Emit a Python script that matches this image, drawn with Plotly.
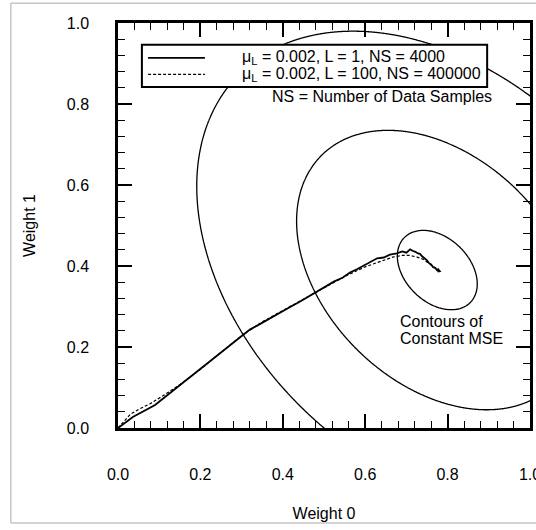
import numpy as np
import plotly.graph_objects as go

# ---------------- data ----------------
w0_solid = [0, .012, .024, .036, .05, .064, .078, .09, .105, .12, .135, .15, .165, .18, .195, .21,
            .225, .24, .255, .27, .285, .30, .32, .34, .36, .38, .40, .42, .44, .46, .485, .505,
            .525, .545, .563, .58, .595, .61, .629, .645, .66, .677, .69, .70, .709, .716, .722,
            .728, .733, .738, .742, .746, .750, .755, .760, .765, .770, .774, .777, .781, .776, .779]
w1_solid = [0, .010, .018, .027, .035, .042, .049, .057, .069, .081, .093, .106, .117, .130, .141,
            .154, .166, .178, .190, .203, .214, .227, .243, .254, .266, .277, .290, .300, .311,
            .323, .339, .349, .362, .371, .384, .392, .400, .408, .419, .421, .428, .431, .436,
            .433, .441, .437, .435, .431, .430, .424, .421, .416, .414, .407, .404, .397, .395,
            .390, .392, .387, .386, .389]

w0_dashed = [0, .015, .03, .05, .078, .11, .15, .20, .25, .30, .35, .40, .45, .50, .55, .60, .64,
             .667, .69, .709, .726, .740, .750, .760, .770, .777]
w1_dashed = [0, .018, .034, .046, .060, .080, .107, .145, .187, .228, .262, .290, .318, .346,
             .374, .398, .413, .422, .426, .426, .422, .417, .410, .402, .394, .390]

# quadratic MSE surface parameters (optimum weights, input correlation matrix, contour levels)
w_opt = [0.775, 0.39]
R = [[1.0, 0.347], [0.347, 0.98]]
mse_levels = [0.00825, 0.1023, 0.299]

tick_vals = [0.0, 0.2, 0.4, 0.6, 0.8, 1.0]
tick_text = ["0.0", "0.2", "0.4", "0.6", "0.8", "1.0"]

legend_labels = ["μ<sub>L</sub> = 0.002, L = 1, NS = 4000",
                 "μ<sub>L</sub> = 0.002, L = 100, NS = 400000"]

# ---------------- figure ----------------
FONT = "Liberation Sans, Arial, Helvetica, sans-serif"
fig = go.Figure()

g = np.linspace(-0.1, 1.1, 481)
G0, G1 = np.meshgrid(g, g)
D0, D1 = G0 - w_opt[0], G1 - w_opt[1]
Z = R[0][0] * D0 ** 2 + 2 * R[0][1] * D0 * D1 + R[1][1] * D1 ** 2

for lev in mse_levels:
    fig.add_trace(go.Contour(
        x=g, y=g, z=Z, showscale=False, hoverinfo="skip",
        contours=dict(start=lev, end=lev, size=1, coloring="none"),
        line=dict(color="black", width=1.3)))

fig.add_trace(go.Scatter(x=w0_dashed, y=w1_dashed, mode="lines", name=legend_labels[1],
                         line=dict(color="black", width=1.2, dash="3px,2px")))
fig.add_trace(go.Scatter(x=w0_solid, y=w1_solid, mode="lines", name=legend_labels[0],
                         line=dict(color="black", width=1.8)))

axis_common = dict(
    range=[0, 1], showgrid=False, zeroline=False, showline=True, linecolor="black",
    linewidth=2.5, mirror="allticks", ticks="inside", ticklen=14, tickwidth=1.5,
    tickcolor="black", tickvals=tick_vals, ticktext=tick_text, ticklabeloverflow="allow",
    automargin=False,
    minor=dict(dtick=0.04, ticks="inside", ticklen=7, tickwidth=1.2, tickcolor="black",
               showgrid=False),
    tickfont=dict(family=FONT, size=16, color="black"),
)

fig.update_layout(
    width=536, height=530,
    margin=dict(l=118, r=6, t=23, b=102, autoexpand=False),
    paper_bgcolor="white", plot_bgcolor="white",
    font=dict(family=FONT, size=16, color="black"),
    showlegend=False,
    xaxis=dict(**axis_common, ticklabelstandoff=30,
               title=dict(text="Weight 0", standoff=26, font=dict(family=FONT, size=16))),
    yaxis=dict(**axis_common, ticklabelstandoff=23,
               title=dict(text="Weight 1", standoff=28, font=dict(family=FONT, size=16))),
)

# manual legend box
shapes = [
    dict(type="rect", xref="paper", yref="paper", x0=0.058, x1=0.896, y0=0.842, y1=0.946,
         line=dict(color="black", width=2), fillcolor="white", layer="above"),
    dict(type="line", xref="paper", yref="paper", x0=0.073, x1=0.211, y0=0.914, y1=0.914,
         line=dict(color="black", width=1.6), layer="above"),
    dict(type="line", xref="paper", yref="paper", x0=0.073, x1=0.211, y0=0.873, y1=0.873,
         line=dict(color="black", width=1.2, dash="3px,2px"), layer="above"),
    # outer frame of the scanned figure
    dict(type="rect", xref="paper", yref="paper", x0=-0.26, x1=1.04, y0=-0.2346, y1=1.049,
         line=dict(color="#aaaaaa", width=1), fillcolor="rgba(0,0,0,0)", layer="below"),
]
annotations = [
    dict(xref="paper", yref="paper", x=0.296, y=0.914, text=legend_labels[0], showarrow=False,
         xanchor="left", yanchor="middle", font=dict(family=FONT, size=16)),
    dict(xref="paper", yref="paper", x=0.296, y=0.873, text=legend_labels[1], showarrow=False,
         xanchor="left", yanchor="middle", font=dict(family=FONT, size=16)),
    dict(xref="paper", yref="paper", x=0.37, y=0.818, text="NS = Number of Data Samples",
         showarrow=False, xanchor="left", yanchor="middle", font=dict(family=FONT, size=16)),
    dict(xref="paper", yref="paper", x=0.68, y=0.262, text="Contours of",
         showarrow=False, xanchor="left", yanchor="middle", font=dict(family=FONT, size=16)),
    dict(xref="paper", yref="paper", x=0.68, y=0.222, text="Constant MSE",
         showarrow=False, xanchor="left", yanchor="middle", font=dict(family=FONT, size=16)),
]
fig.update_layout(shapes=shapes, annotations=annotations)

fig.write_html("out.html")
